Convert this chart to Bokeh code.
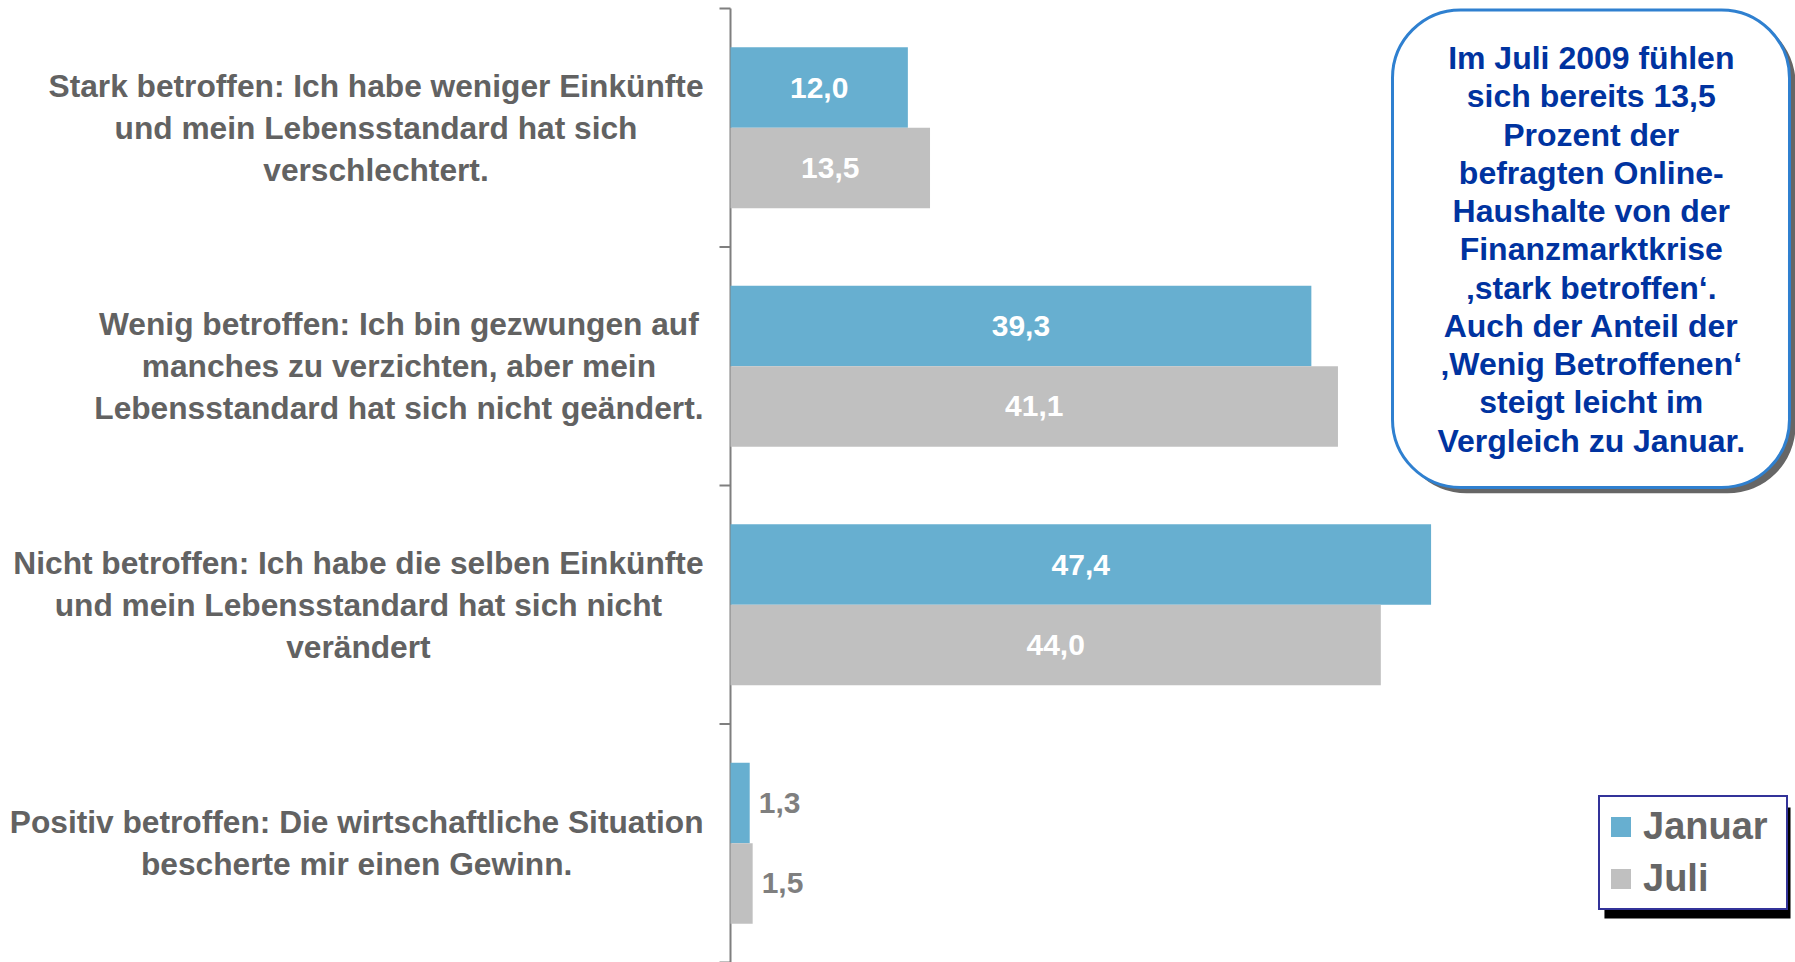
import math
from bokeh.plotting import figure
from bokeh.models import Range1d, BoxAnnotation, Legend, LegendItem, ColumnDataSource
from bokeh.transform import dodge
from bokeh.core.properties import value
from bokeh.embed import file_html
from bokeh.resources import INLINE

# ---------------- data ----------------
categories = [
    "Stark betroffen: Ich habe weniger Einkünfte\nund mein Lebensstandard hat sich\nverschlechtert.",
    "Wenig betroffen: Ich bin gezwungen auf\nmanches zu verzichten, aber mein\nLebensstandard hat sich nicht geändert.",
    "Nicht betroffen: Ich habe die selben Einkünfte\nund mein Lebensstandard hat sich nicht\nverändert",
    "Positiv betroffen: Die wirtschaftliche Situation\nbescherte mir einen Gewinn.",
]
januar = [12.0, 39.3, 47.4, 1.3]
juli = [13.5, 41.1, 44.0, 1.5]
series = ["Januar", "Juli"]
callout_text = ("Im Juli 2009 fühlen\nsich bereits 13,5\nProzent der\nbefragten Online-\n"
                "Haushalte von der\nFinanzmarktkrise\n\u201astark betroffen\u2018.\n"
                "Auch der Anteil der\n\u201aWenig Betroffenen\u2018\nsteigt leicht im\n"
                "Vergleich zu Januar.")

# ---------------- style ----------------
FONT_NAME = "Liberation Sans"
FONT = value(FONT_NAME)
COL_JAN = "#67AFD0"
COL_JUL = "#C0C0C0"
AXIS_GRAY = "#7F7F7F"
LABEL_GRAY = "#626262"
BAR_H = 0.3375
INSIDE_MIN = 5.0

W, H = 1795, 962
AXIS_X_PX = 730      # pixel position of value 0
PX_PER_UNIT = 14.78  # horizontal scale
TOP_PX = 8           # pixel position of the top of the category axis
n = len(categories)
BAND_PX = (H - TOP_PX) / n

p = figure(width=W, height=H,
           x_range=Range1d(-AXIS_X_PX / PX_PER_UNIT, (W - AXIS_X_PX) / PX_PER_UNIT),
           y_range=Range1d(n, -TOP_PX / BAND_PX),
           output_backend="svg", toolbar_location=None,
           x_axis_location=None, y_axis_location=None,
           min_border_left=0, min_border_right=0, min_border_top=0, min_border_bottom=0)
p.outline_line_color = None
p.grid.visible = False
p.background_fill_color = "white"
p.border_fill_color = "white"

# category axis: line and boundary ticks
bounds = list(range(n + 1))
p.segment(x0=0, y0=0, x1=0, y1=n, line_color=AXIS_GRAY, line_width=2)
p.ray(x=[0] * len(bounds), y=bounds, length=11, length_units="screen", angle=math.pi,
      line_color=AXIS_GRAY, line_width=2)

pos = [i + 0.5 for i in range(n)]
fmt = lambda v: f"{v:.1f}".replace(".", ",")
src = ColumnDataSource(dict(pos=pos, januar=januar, juli=juli))

r_jan = p.hbar(y=dodge("pos", -BAR_H / 2, range=p.y_range), left=0, right="januar",
               height=BAR_H, source=src, fill_color=COL_JAN, line_color=None)
r_jul = p.hbar(y=dodge("pos", BAR_H / 2, range=p.y_range), left=0, right="juli",
               height=BAR_H, source=src, fill_color=COL_JUL, line_color=None)

# value labels
ins = dict(x=[], y=[], t=[])
out = dict(x=[], y=[], t=[])
for vals, off in ((januar, -BAR_H / 2), (juli, BAR_H / 2)):
    for i, v in enumerate(vals):
        d = ins if v >= INSIDE_MIN else out
        d["x"].append(v / 2 if v >= INSIDE_MIN else v)
        d["y"].append(pos[i] + off)
        d["t"].append(fmt(v))
p.text(x="x", y="y", text="t", source=ColumnDataSource(ins), text_font=FONT,
       text_font_style="bold", text_font_size="30px", text_color="white",
       text_align="center", text_baseline="middle")
p.text(x="x", y="y", text="t", source=ColumnDataSource(out), text_font=FONT,
       text_font_style="bold", text_font_size="30px", text_color=AXIS_GRAY,
       text_align="left", text_baseline="middle", x_offset=9)

# category labels (right-anchored block, centred lines)
p.text(x=[0] * n, y=pos, text=categories, x_offset=-27, anchor="center_right",
       text_align="center", text_baseline="middle", text_font=FONT,
       text_font_size="31.7px", text_font_style="bold", text_color=LABEL_GRAY,
       text_line_height=1.164)

# callout box with shadow
p.add_layout(BoxAnnotation(left=45.2, right=72.06, top=0.03, bottom=2.033,
                           fill_color="#666666", fill_alpha=1, line_color=None,
                           border_radius=68))
p.add_layout(BoxAnnotation(left=44.79, right=71.65, top=0.006, bottom=2.008,
                           fill_color="white", fill_alpha=1, line_color="#2F80D0",
                           line_alpha=1, line_width=3, border_radius=68))
p.text(x=[58.24], y=[1.01], text=[callout_text], anchor="center",
       text_align="center", text_baseline="middle", text_font=FONT,
       text_font_size="32px", text_font_style="bold", text_color="#0033A0",
       text_line_height=1.063, level="overlay")

# legend with shadow
p.add_layout(BoxAnnotation(left=59.13, right=71.72, top=3.35, bottom=3.816,
                           fill_color="black", fill_alpha=1, line_color=None))
legend = Legend(items=[LegendItem(label=series[0], renderers=[r_jan]),
                       LegendItem(label=series[1], renderers=[r_jul])],
                location=(1598, 52), border_line_color="#333399", border_line_width=2,
                border_line_alpha=1,
                background_fill_color="white", background_fill_alpha=1,
                label_text_font=FONT_NAME, label_text_font_size="38px",
                label_text_font_style="bold", label_text_color="#666666",
                glyph_width=25, glyph_height=25, label_standoff=10, spacing=9,
                label_width=135, padding=8, margin=0)
p.add_layout(legend)

open("out.html", "w").write(file_html(p, INLINE))
